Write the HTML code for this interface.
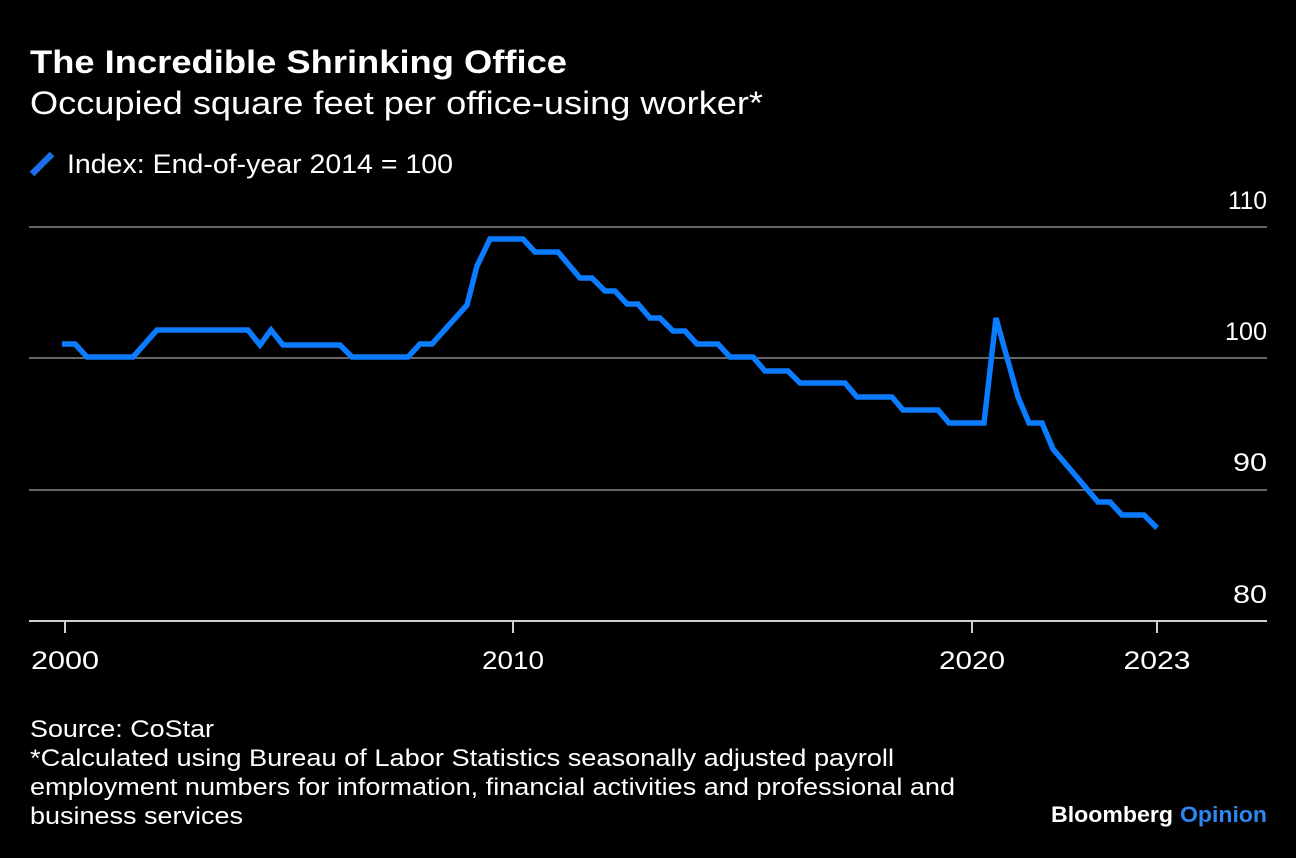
<!DOCTYPE html>
<html>
<head>
<meta charset="utf-8">
<style>
  html, body { margin: 0; padding: 0; background: #000; }
  body { width: 1296px; height: 858px; overflow: hidden; }
  svg { display: block; }
  text { font-family: "Liberation Sans", "DejaVu Sans", sans-serif; fill: #fff; }
</style>
</head>
<body>
<svg width="1296" height="858" viewBox="0 0 1296 858" xmlns="http://www.w3.org/2000/svg">
  <rect x="0" y="0" width="1296" height="858" fill="#000"/>

  <!-- Title / subtitle -->
  <text x="30" y="73" font-size="32" font-weight="bold" textLength="537" lengthAdjust="spacingAndGlyphs">The Incredible Shrinking Office</text>
  <text x="30" y="114" font-size="32" textLength="733" lengthAdjust="spacingAndGlyphs">Occupied square feet per office-using worker*</text>

  <!-- Legend -->
  <line x1="32" y1="174" x2="52" y2="154" stroke="#1a6fe8" stroke-width="6.5" stroke-linecap="butt"/>
  <text x="67" y="173" font-size="27" textLength="386" lengthAdjust="spacingAndGlyphs">Index: End-of-year 2014 = 100</text>

  <!-- Gridlines -->
  <line x1="29" y1="227" x2="1267" y2="227" stroke="#666" stroke-width="2"/>
  <line x1="29" y1="358" x2="1267" y2="358" stroke="#666" stroke-width="2"/>
  <line x1="29" y1="490" x2="1267" y2="490" stroke="#666" stroke-width="2"/>
  <line x1="29" y1="621" x2="1267" y2="621" stroke="#d0d0d0" stroke-width="2"/>

  <!-- Y labels -->
  <text x="1267" y="209" font-size="25" text-anchor="end" textLength="39" lengthAdjust="spacingAndGlyphs">110</text>
  <text x="1267" y="340" font-size="25" text-anchor="end" textLength="42" lengthAdjust="spacingAndGlyphs">100</text>
  <text x="1267" y="471" font-size="25" text-anchor="end" textLength="34" lengthAdjust="spacingAndGlyphs">90</text>
  <text x="1267" y="603" font-size="25" text-anchor="end" textLength="34" lengthAdjust="spacingAndGlyphs">80</text>

  <!-- X ticks -->
  <g stroke="#d0d0d0" stroke-width="2">
    <line x1="65" y1="621" x2="65" y2="633"/>
    <line x1="513" y1="621" x2="513" y2="633"/>
    <line x1="972" y1="621" x2="972" y2="633"/>
    <line x1="1157" y1="621" x2="1157" y2="633"/>
  </g>
  <text x="65" y="669" font-size="25" text-anchor="middle" textLength="68" lengthAdjust="spacingAndGlyphs">2000</text>
  <text x="513" y="669" font-size="25" text-anchor="middle" textLength="62" lengthAdjust="spacingAndGlyphs">2010</text>
  <text x="972" y="669" font-size="25" text-anchor="middle" textLength="66" lengthAdjust="spacingAndGlyphs">2020</text>
  <text x="1157" y="669" font-size="25" text-anchor="middle" textLength="67" lengthAdjust="spacingAndGlyphs">2023</text>

  <!-- Data line -->
  <polyline fill="none" stroke="#0b7bff" stroke-width="5.5" stroke-linejoin="miter" stroke-miterlimit="3" stroke-linecap="butt"
    points="62,344 75,344 87,357 133,357 157,330 248,330 260,345 271,330 283,345 340,345 352,357 408,357 420,344 432,344 467,305 477,266 490,239 523,239 535,252 558,252 580,278 592,278 605,291 615,291 627,304 638,304 650,318 660,318 673,331 685,331 697,344 718,344 730,357 753,357 765,371 788,371 800,383 845,383 857,397 892,397 903,410 938,410 949,423 984,423 996,318 1018,397 1029,423 1042,423 1053,449 1098,502 1110,502 1122,515 1144,515 1157,528"/>

  <!-- Footer -->
  <text x="30" y="737" font-size="24" textLength="184" lengthAdjust="spacingAndGlyphs">Source: CoStar</text>
  <text x="30" y="766" font-size="24" textLength="864" lengthAdjust="spacingAndGlyphs">*Calculated using Bureau of Labor Statistics seasonally adjusted payroll</text>
  <text x="30" y="795" font-size="24" textLength="925" lengthAdjust="spacingAndGlyphs">employment numbers for information, financial activities and professional and</text>
  <text x="30" y="824" font-size="24" textLength="213" lengthAdjust="spacingAndGlyphs">business services</text>

  <!-- Branding -->
  <text x="1051" y="822" font-size="22" font-weight="bold" textLength="122" lengthAdjust="spacingAndGlyphs">Bloomberg</text>
  <text x="1180" y="822" font-size="22" font-weight="bold" textLength="87" lengthAdjust="spacingAndGlyphs" style="fill:#2f86f0">Opinion</text>
</svg>
</body>
</html>
